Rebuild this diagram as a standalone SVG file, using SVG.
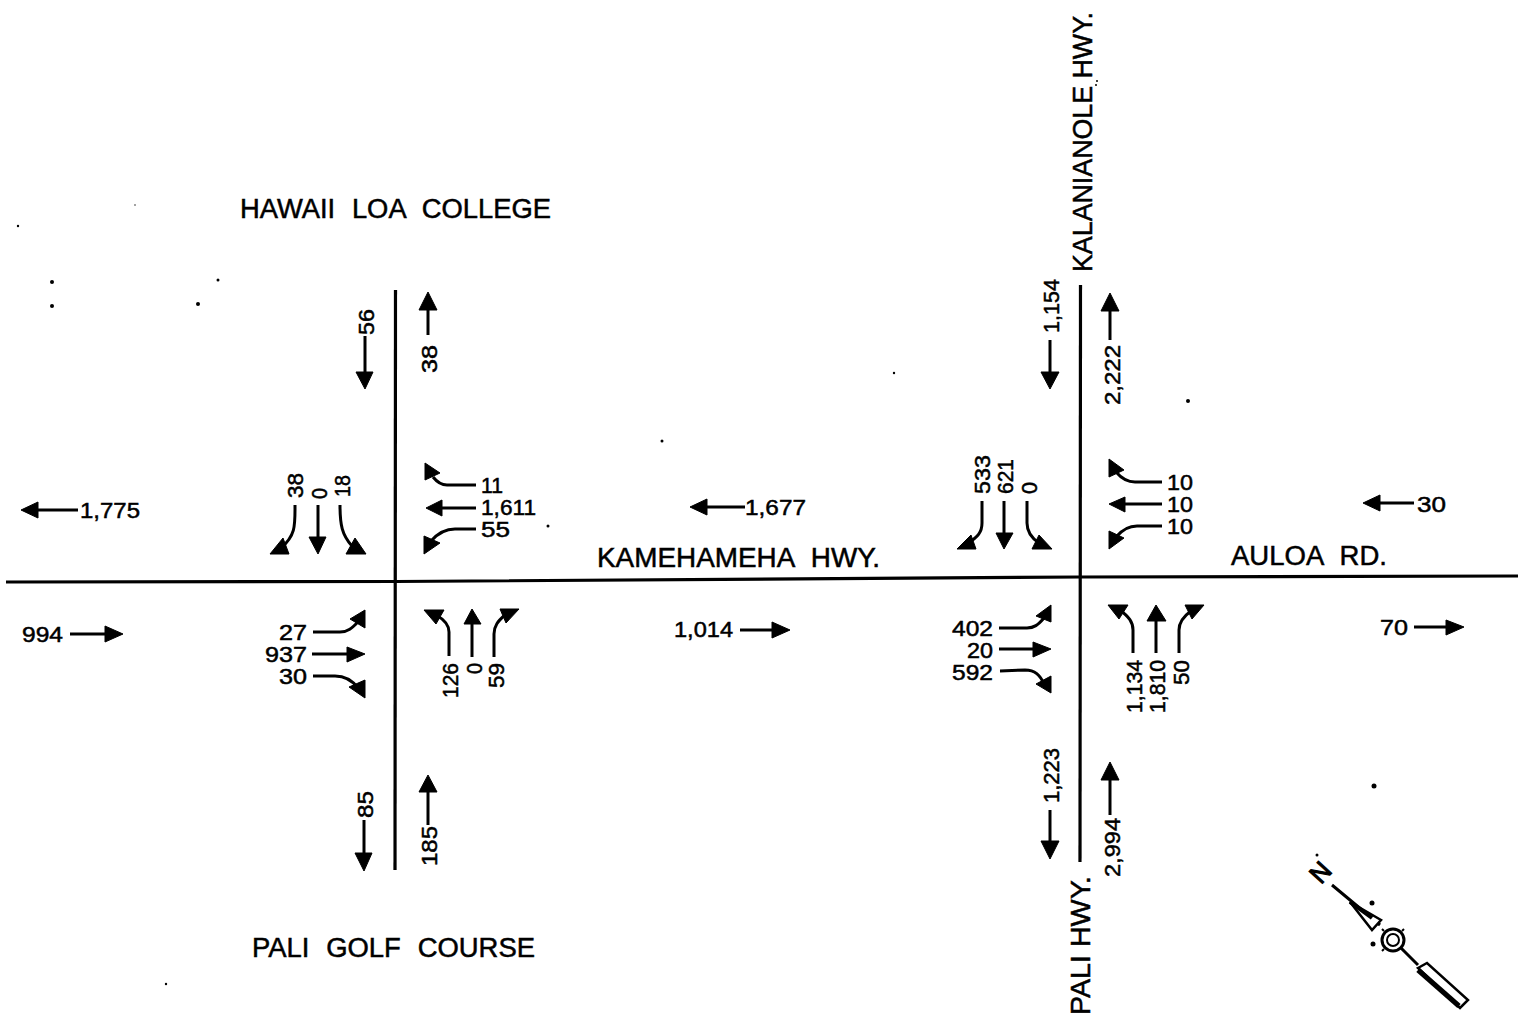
<svg xmlns="http://www.w3.org/2000/svg" width="1518" height="1034" viewBox="0 0 1518 1034">
<style>
text{font-family:"Liberation Sans",Arial,sans-serif;fill:#000;stroke:#000;stroke-width:.5}
.n{font-size:22px}
.r{font-size:27px;word-spacing:9px}
.road{fill:none;stroke:#000;stroke-width:3.200}
.c{fill:none;stroke:#000;stroke-width:3}
.h{fill:#000;stroke:#000;stroke-width:1;stroke-linejoin:round}
</style>
<rect width="1518" height="1034" fill="#fff"/>
<g id="roads">
<polyline class="road" points="6,582 396,581.5 1080,577 1518,576"/>
<line class="road" x1="395.500" y1="290" x2="395" y2="870"/>
<line class="road" x1="1080.500" y1="285" x2="1080" y2="862"/>
</g>
<g id="connectors">
<!-- left intersection -->
<path class="c" d="M295 505C295 525 296 535 281 548"/><polygon class="h" points="270,554 289,554 283,538"/>
<path class="c" d="M318 505V538"/><polygon class="h" points="309,537 326,537 318,554"/>
<path class="c" d="M340 505C340 525 342 535 352 546"/><polygon class="h" points="346,554 366,554 355,538"/>
<path class="c" d="M476 485H447C441 485 437 482 433 477"/><polygon class="h" points="425,463 425,480 440,473"/>
<path class="c" d="M476 508H440"/><polygon class="h" points="426,508 442,500 442,516"/>
<path class="c" d="M476 529H455C445 529 438 533 431 541"/><polygon class="h" points="424,536 424,554 440,543"/>
<path class="c" d="M313 632H340C348 632 352 628 358 622"/><polygon class="h" points="365,610 365,628 350,619"/>
<path class="c" d="M312 654H350"/><polygon class="h" points="347,647 347,662 365,654"/>
<path class="c" d="M313 676H335C345 676 352 680 358 688"/><polygon class="h" points="365,680 365,698 349,687"/>
<path class="c" d="M449 656V632C449 625 445 620 436 615"/><polygon class="h" points="424,610 444,610 436,624"/>
<path class="c" d="M472 657V624"/><polygon class="h" points="464,624 481,624 472,609"/>
<path class="c" d="M494 657V634C494 626 498 621 505 615"/><polygon class="h" points="500,609 519,609 506,623"/>
<!-- right intersection -->
<path class="c" d="M982 501V523C982 532 978 537 968 543"/><polygon class="h" points="957,549 976,549 971,535"/>
<path class="c" d="M1004 501V533"/><polygon class="h" points="996,533 1013,533 1004,549"/>
<path class="c" d="M1027 501V523C1027 531 1030 537 1039 543"/><polygon class="h" points="1032,549 1052,549 1039,535"/>
<path class="c" d="M1162 482H1135C1128 482 1122 479 1116 472"/><polygon class="h" points="1109,459 1109,477 1124,470"/>
<path class="c" d="M1162 504H1125"/><polygon class="h" points="1109,504 1125,497 1125,512"/>
<path class="c" d="M1162 526H1137C1128 526 1122 530 1116 537"/><polygon class="h" points="1109,531 1109,549 1124,538"/>
<path class="c" d="M999 628H1027C1034 628 1038 625 1044 618"/><polygon class="h" points="1051,605 1051,622 1036,616"/>
<path class="c" d="M999 649H1033"/><polygon class="h" points="1033,642 1033,657 1051,649"/>
<path class="c" d="M1000 671L1025 670C1035 670 1040 675 1044 684"/><polygon class="h" points="1051,676 1051,693 1036,684"/>
<path class="c" d="M1133 653V630C1133 622 1129 617 1120 610"/><polygon class="h" points="1108,605 1128,605 1119,619"/>
<path class="c" d="M1156 653V621"/><polygon class="h" points="1147,621 1166,621 1156,605"/>
<path class="c" d="M1179 653V630C1179 622 1184 616 1191 611"/><polygon class="h" points="1185,605 1204,605 1192,619"/>
<!-- approach arrows -->
<path class="c" d="M365 336V375"/><polygon class="h" points="356,372 373,372 365,389"/>
<path class="c" d="M428 335V310"/><polygon class="h" points="419,310 437,310 428,292"/>
<path class="c" d="M364 820V855"/><polygon class="h" points="355,853 372,853 364,871"/>
<path class="c" d="M428 825V790"/><polygon class="h" points="419,792 437,792 428,775"/>
<path class="c" d="M1050 340V372"/><polygon class="h" points="1041,372 1059,372 1050,389"/>
<path class="c" d="M1110 340V310"/><polygon class="h" points="1101,311 1119,311 1110,293"/>
<path class="c" d="M1050 810V842"/><polygon class="h" points="1041,841 1059,841 1050,859"/>
<path class="c" d="M1110 815V780"/><polygon class="h" points="1101,780 1119,780 1110,762"/>
<path class="c" d="M78 510H37"/><polygon class="h" points="21,510 38,502 38,518"/>
<path class="c" d="M745 507H707"/><polygon class="h" points="690,507 707,499 707,515"/>
<path class="c" d="M1414 503H1380"/><polygon class="h" points="1363,503 1380,495 1380,511"/>
<path class="c" d="M70 634H105"/><polygon class="h" points="105,626 105,642 123,634"/>
<path class="c" d="M740 630H772"/><polygon class="h" points="772,622 772,638 790,630"/>
<path class="c" d="M1414 627H1446"/><polygon class="h" points="1446,620 1446,635 1464,627"/>
</g>
<g id="counts" class="n">
<text class="n" x="80" y="518" textLength="60" lengthAdjust="spacingAndGlyphs">1,775</text>
<text class="n" x="745" y="515" textLength="61" lengthAdjust="spacingAndGlyphs">1,677</text>
<text class="n" x="1417" y="512" textLength="29" lengthAdjust="spacingAndGlyphs">30</text>
<text class="n" x="22" y="642" textLength="41" lengthAdjust="spacingAndGlyphs">994</text>
<text class="n" x="674" y="637" textLength="59" lengthAdjust="spacingAndGlyphs">1,014</text>
<text class="n" x="1380" y="635" textLength="28" lengthAdjust="spacingAndGlyphs">70</text>
<text class="n" x="481" y="493" textLength="22" lengthAdjust="spacingAndGlyphs">11</text>
<text class="n" x="481" y="515" textLength="55" lengthAdjust="spacingAndGlyphs">1,611</text>
<text class="n" x="481" y="537" textLength="29" lengthAdjust="spacingAndGlyphs">55</text>
<text class="n" x="1167" y="490" textLength="26" lengthAdjust="spacingAndGlyphs">10</text>
<text class="n" x="1167" y="512" textLength="26" lengthAdjust="spacingAndGlyphs">10</text>
<text class="n" x="1167" y="534" textLength="26" lengthAdjust="spacingAndGlyphs">10</text>
<text class="n" x="279" y="640" textLength="28" lengthAdjust="spacingAndGlyphs">27</text>
<text class="n" x="265" y="662" textLength="42" lengthAdjust="spacingAndGlyphs">937</text>
<text class="n" x="279" y="684" textLength="28" lengthAdjust="spacingAndGlyphs">30</text>
<text class="n" x="952" y="636" textLength="41" lengthAdjust="spacingAndGlyphs">402</text>
<text class="n" x="967" y="658" textLength="26" lengthAdjust="spacingAndGlyphs">20</text>
<text class="n" x="952" y="680" textLength="41" lengthAdjust="spacingAndGlyphs">592</text>
<text class="n" transform="translate(374 335) rotate(-90)" textLength="26" lengthAdjust="spacingAndGlyphs">56</text>
<text class="n" transform="translate(437 373) rotate(-90)" textLength="28" lengthAdjust="spacingAndGlyphs">38</text>
<text class="n" transform="translate(373 818) rotate(-90)" textLength="27" lengthAdjust="spacingAndGlyphs">85</text>
<text class="n" transform="translate(437 866) rotate(-90)" textLength="40" lengthAdjust="spacingAndGlyphs">185</text>
<text class="n" transform="translate(1059 333) rotate(-90)" textLength="54" lengthAdjust="spacingAndGlyphs">1,154</text>
<text class="n" transform="translate(1120 405) rotate(-90)" textLength="60" lengthAdjust="spacingAndGlyphs">2,222</text>
<text class="n" transform="translate(1059 803) rotate(-90)" textLength="55" lengthAdjust="spacingAndGlyphs">1,223</text>
<text class="n" transform="translate(1120 877) rotate(-90)" textLength="59" lengthAdjust="spacingAndGlyphs">2,994</text>
<text class="n" transform="translate(303 498) rotate(-90)" textLength="25" lengthAdjust="spacingAndGlyphs">38</text>
<text class="n" transform="translate(327 499) rotate(-90)" textLength="11" lengthAdjust="spacingAndGlyphs">0</text>
<text class="n" transform="translate(350 497) rotate(-90)" textLength="22" lengthAdjust="spacingAndGlyphs">18</text>
<text class="n" transform="translate(458 698) rotate(-90)" textLength="35" lengthAdjust="spacingAndGlyphs">126</text>
<text class="n" transform="translate(482 674) rotate(-90)" textLength="11" lengthAdjust="spacingAndGlyphs">0</text>
<text class="n" transform="translate(504 688) rotate(-90)" textLength="25" lengthAdjust="spacingAndGlyphs">59</text>
<text class="n" transform="translate(990 494) rotate(-90)" textLength="39" lengthAdjust="spacingAndGlyphs">533</text>
<text class="n" transform="translate(1013 494) rotate(-90)" textLength="35" lengthAdjust="spacingAndGlyphs">621</text>
<text class="n" transform="translate(1037 494) rotate(-90)" textLength="12" lengthAdjust="spacingAndGlyphs">0</text>
<text class="n" transform="translate(1142 713) rotate(-90)" textLength="53" lengthAdjust="spacingAndGlyphs">1,134</text>
<text class="n" transform="translate(1165 713) rotate(-90)" textLength="53" lengthAdjust="spacingAndGlyphs">1,810</text>
<text class="n" transform="translate(1189 685) rotate(-90)" textLength="25" lengthAdjust="spacingAndGlyphs">50</text>
</g>
<g id="road-labels">
<text class="r" x="240" y="218" textLength="311" lengthAdjust="spacingAndGlyphs">HAWAII LOA COLLEGE</text>
<text class="r" x="252" y="957" textLength="283" lengthAdjust="spacingAndGlyphs">PALI GOLF COURSE</text>
<text class="r" x="597" y="567" textLength="283" lengthAdjust="spacingAndGlyphs">KAMEHAMEHA HWY.</text>
<text class="r" x="1231" y="565" textLength="156" lengthAdjust="spacingAndGlyphs">AULOA RD.</text>
<text class="r" style="word-spacing:0" transform="translate(1092 272) rotate(-90)" textLength="260" lengthAdjust="spacingAndGlyphs">KALANIANOLE HWY.</text>
<text class="r" style="word-spacing:0" transform="translate(1090 1015) rotate(-90)" textLength="139" lengthAdjust="spacingAndGlyphs">PALI HWY.</text>
</g>
<g id="north-arrow">
<path d="M1332 885L1380 925M1386 933L1393 940L1418 965" fill="none" stroke="#000" stroke-width="3"/>
<polygon points="1350,902 1381,920 1372,930" fill="#fff" stroke="#000" stroke-width="2.500"/>
<path d="M1350 902L1372 918" stroke="#000" stroke-width="4"/>
<circle cx="1393" cy="940" r="11" fill="#fff" stroke="#000" stroke-width="3"/>
<circle cx="1393" cy="940" r="6" fill="#fff" stroke="#000" stroke-width="2"/>
<path d="M1402 931L1404 929M1384 949L1382 951M1402 949L1404 951M1384 931L1382 929" stroke="#000" stroke-width="2"/>
<polygon points="1418,968 1427,963 1468,1000 1460,1008" fill="#fff" stroke="#000" stroke-width="2.500"/>
<path d="M1418 970L1459 1006" stroke="#000" stroke-width="5"/>
<text transform="translate(1321 885) rotate(-48)" font-size="26" textLength="18" lengthAdjust="spacingAndGlyphs" style="stroke-width:1.200">N</text>
</g>
<g id="specks" fill="#000">
<circle cx="18" cy="226" r="1.200"/><circle cx="52" cy="282" r="2"/><circle cx="52" cy="306" r="2"/><circle cx="198" cy="304" r="2"/><circle cx="218" cy="280" r="1.500"/><circle cx="548" cy="526" r="1.500"/><circle cx="662" cy="441" r="1.500"/><circle cx="894" cy="373" r="1.200"/><circle cx="1188" cy="401" r="2"/><circle cx="1374" cy="786" r="2.500"/><circle cx="166" cy="984" r="1.200"/><circle cx="135" cy="205" r=".7"/><circle cx="1372" cy="903" r="2.500"/><circle cx="1373" cy="944" r="2.500"/><circle cx="1317" cy="855" r="1.500"/><circle cx="1096" cy="85" r="1"/><circle cx="1097" cy="81" r="1"/>
</g>
</svg>
